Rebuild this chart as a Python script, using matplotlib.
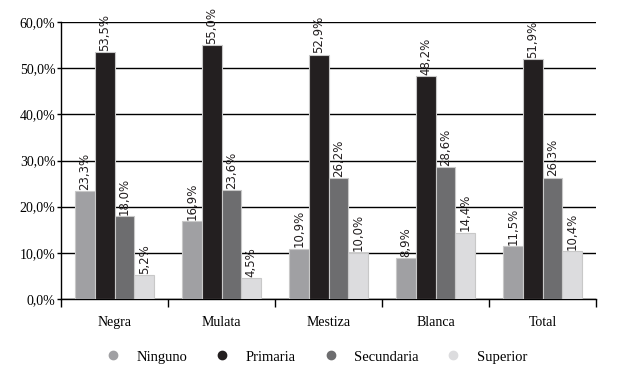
import numpy as np
from matplotlib import pyplot as plt
from matplotlib.lines import Line2D

categories = ["Negra", "Mulata", "Mestiza", "Blanca", "Total"]
series = ["Ninguno", "Primaria", "Secundaria", "Superior"]
ninguno = [23.3, 16.9, 10.9, 8.9, 11.5]
primaria = [53.5, 55.0, 52.9, 48.2, 51.9]
secundaria = [18.0, 23.6, 26.2, 28.6, 26.3]
superior = [5.2, 4.5, 10.0, 14.4, 10.4]
colors = ["#a0a0a3", "#231f20", "#6d6d6f", "#dcdcde"]

values = [ninguno, primaria, secundaria, superior]

fig = plt.figure(figsize=(6.17, 3.73), dpi=100)
ax = fig.add_axes([61 / 617, 1 - 299 / 373, 535 / 617, 277 / 373])

serif = "Liberation Serif"
x = np.arange(len(categories))
w = 0.185
for i, (vals, col) in enumerate(zip(values, colors)):
    pos = x + (i - 1.5) * w
    ax.bar(pos, vals, w, color=col, edgecolor="#c8c8c8", linewidth=0.8, zorder=3)
    for p, v in zip(pos, vals):
        ax.text(p, v + 0.3, ("%.1f%%" % v).replace(".", ","), rotation=90,
                ha="center", va="bottom", fontsize=8.5, color="#231f20", zorder=4)

ax.set_xlim(-0.5, len(categories) - 0.5)
ax.set_ylim(0, 60)
ax.set_yticks(np.arange(0, 61, 10))
ax.set_yticklabels([("%.1f%%" % t).replace(".", ",") for t in np.arange(0, 61, 10)],
                   fontfamily=serif, fontsize=10)
ax.set_xticks(x)
ax.set_xticklabels(categories, fontfamily=serif, fontsize=10)
ax.set_xticks(np.arange(-0.5, len(categories)), minor=True)
ax.tick_params(axis="x", which="major", length=0, pad=12)
ax.tick_params(axis="x", which="minor", length=6, width=1, direction="out")
ax.tick_params(axis="y", length=3, width=1, pad=1)
ax.grid(axis="y", color="black", linewidth=1, zorder=0)
for s in ["top", "right"]:
    ax.spines[s].set_visible(False)
ax.spines["left"].set_linewidth(1)
ax.spines["bottom"].set_linewidth(1)

handles = [Line2D([], [], marker="o", linestyle="", markersize=6, color=c) for c in colors]
fig.legend(handles, series, loc="center", bbox_to_anchor=(0.507, 1 - 357 / 373), ncol=4,
           frameon=False, prop={"family": serif, "size": 10.5}, handletextpad=0.6,
           columnspacing=1.4)

plt.savefig("out.png")
